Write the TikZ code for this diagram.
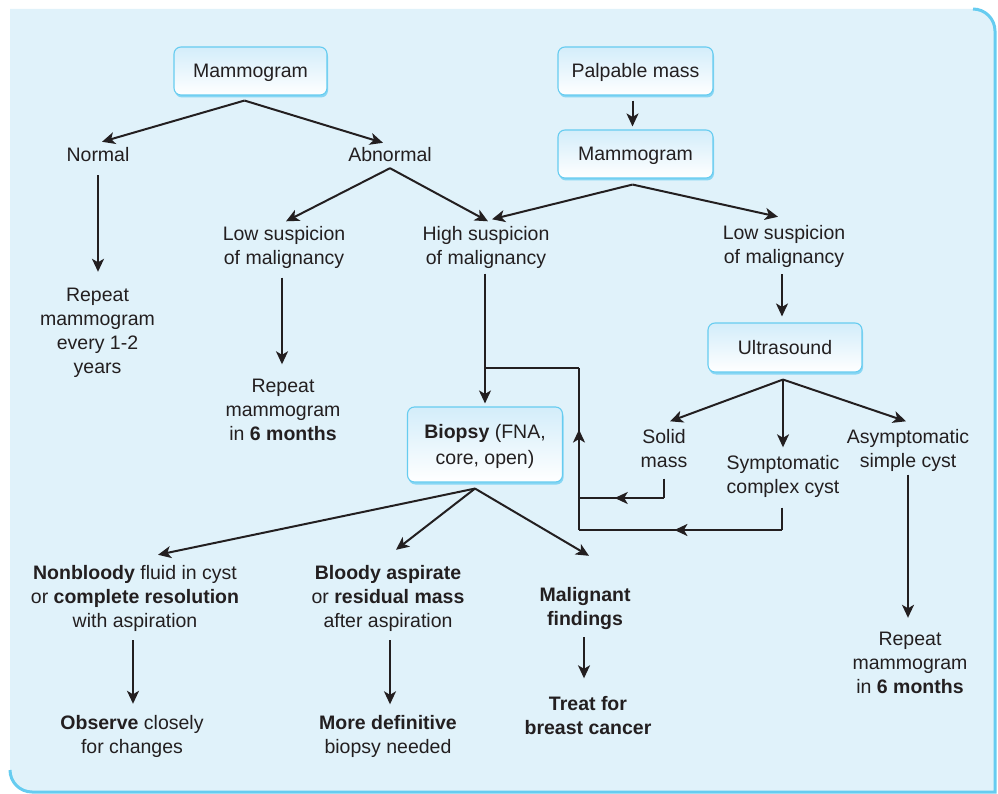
\documentclass[tikz,border=0pt]{standalone}
\usepackage{fontspec}
\setmainfont{Liberation Sans}
\usetikzlibrary{calc,arrows.meta,decorations.markings,shadows}
\definecolor{panel}{HTML}{E0F2FA}
\definecolor{rim}{HTML}{66CCF0}
\definecolor{boxtop}{HTML}{D3EDFA}
\definecolor{ink}{HTML}{231F20}
\definecolor{glow}{HTML}{78D2F3}
% line strut: 24pt tall, sitting slightly low so text is optically centred
\newcommand\vs{\rule[-5.2pt]{0pt}{24pt}}

\begin{document}
\begin{tikzpicture}[x=1pt,y=-1pt,
  every node/.style={font=\fontsize{19.5}{24}\selectfont, text=ink, inner sep=0pt, align=center},
  stepbox/.style={draw=rim, line width=1.1pt, rounded corners=7pt,
    top color=boxtop, bottom color=white, minimum width=153pt, minimum height=48pt,
    drop shadow={shadow xshift=1pt, shadow yshift=-2.5pt, fill=glow, opacity=0.85}},
  line/.style={draw=ink, line width=2pt},
  arr/.style={line, -{Stealth[length=13pt,width=12pt,inset=3.5pt]}},
  midarrow/.style={line, postaction={decorate}, decoration={markings,
    mark=at position #1 with {\arrow{Stealth[length=13pt,width=12pt,inset=3.5pt]}}}}
]
\useasboundingbox (0,0) rectangle (998,794);

% background panel with two rounded corners and a rim on the right and bottom
\fill[panel] (10,9) -- (973,9) .. controls (985.1,9) and (995,18.9) .. (995,31)
  -- (995,792) -- (32,792) .. controls (19.9,792) and (10,782.1) .. (10,770) -- cycle;
\draw[rim, line width=3pt] (973,9) .. controls (985.1,9) and (995,18.9) .. (995,31)
  -- (995,792) -- (32,792) .. controls (19.9,792) and (10,782.1) .. (10,770);

% boxed steps
\node[stepbox] (mamA) at (250.5,71) {\vs Mammogram};
\node[stepbox, minimum width=155pt] (palp) at (635.5,71) {\vs Palpable mass};
\node[stepbox, minimum width=155pt] (mamB) at (635.5,154) {\vs Mammogram};
\node[stepbox, minimum width=154pt, minimum height=49pt] (ultra) at (785,347.5) {\vs Ultrasound};
\node[stepbox, minimum width=155pt, minimum height=75pt] (biop) at (485,444.5)
  {\vs\textbf{Biopsy} (FNA,\\[2pt]\vs core, open)};

% plain text outcomes
\node (normal) at (98,155) {\vs Normal};
\node (abn) at (390,155) {\vs Abnormal};
\node (lowL) at (284,245.5) {\vs Low suspicion\\\vs of malignancy};
\node (high) at (486,245.5) {\vs High suspicion\\\vs of malignancy};
\node (lowR) at (784,245) {\vs Low suspicion\\\vs of malignancy};
\node (repL) at (97.5,331) {\vs Repeat\\\vs mammogram\\\vs every 1-2\\\vs years};
\node (repM) at (283,409.5) {\vs Repeat\\\vs mammogram\\\vs in \textbf{6 months}};
\node (solid) at (664,448.5) {\vs Solid\\\vs mass};
\node (symp) at (783,474.5) {\vs Symptomatic\\\vs complex cyst};
\node (asym) at (908,448.5) {\vs Asymptomatic\\\vs simple cyst};
\node (nonb) at (135,597) {\vs\textbf{Nonbloody} fluid in cyst\\\vs or \textbf{complete resolution}\\\vs with aspiration};
\node (bloody) at (388,597) {\vs\textbf{Bloody aspirate}\\\vs or \textbf{residual mass}\\\vs after aspiration};
\node (malig) at (585,607) {\vs\textbf{Malignant}\\\vs\textbf{findings}};
\node (obs) at (132,735) {\vs\textbf{Observe} closely\\\vs for changes};
\node (more) at (388,734.5) {\vs\textbf{More definitive}\\\vs biopsy needed};
\node (treat) at (588,715.5) {\vs\textbf{Treat for}\\\vs\textbf{breast cancer}};
\node (repR) at (910,663) {\vs Repeat\\\vs mammogram\\\vs in \textbf{6 months}};

% branch points
\coordinate (a1) at ($(mamA.south)+(-6,5)$);
\coordinate (a2) at ($(abn.south)+(0,1)$);
\coordinate (a3) at ($(mamB.south)+(-3,6)$);
\coordinate (a4) at ($(ultra.south)+(-2,7)$);
\coordinate (a5) at ($(biop.south)+(-10,6)$);
\coordinate (loopTop) at (579,368);
\coordinate (loopBot) at (579,530);
\coordinate (solidJoin) at (579,498);

% screening mammogram branch
\draw[arr] (a1) -- ($(normal.north)+(4,-1)$);
\draw[arr] (a1) -- ($(abn.north)+(-7,0)$);
\draw[arr] ($(normal.south)+(0,8)$) -- ($(repL.north)+(0.5,-11)$);
\draw[arr] (a2) -- ($(lowL.north)+(2,0)$);
\draw[arr] (a2) -- ($(high.north)+(2,0)$);
\draw[arr] ($(lowL.south)+(-2,8)$) -- ($(repM.north)+(-1,-9)$);

% palpable mass branch
\draw[arr] ($(palp.south)+(-3,5)$) -- ($(mamB.north)+(-3,-3)$);
\draw[arr] (a3) -- ($(high.north)+(6,-2)$);
\draw[arr] (a3) -- ($(lowR.north)+(-6,-4)$);
\draw[arr] ($(lowR.south)+(-2,5)$) -- ($(ultra.north)+(-3,-6)$);
\draw[arr] (a4) -- ($(solid.north)+(6,-3)$);
\draw[arr] (a4) -- ($(symp.north)+(0,-3)$);
\draw[arr] (a4) -- ($(asym.north)+(-2,-3)$);
\draw[arr] ($(asym.south)+(0,2)$) -- ($(asym.south |- repR.north)+(0,-9)$);

% route to biopsy
\draw[arr] ($(high.south)+(-1,4)$) -- ($(biop.north)+(0,-3)$);
\draw[line] (loopTop) -- (loopTop -| biop.north);
\draw[midarrow=0.62] (loopBot) -- (loopTop);
\draw[line] ($(solid.south)+(0,6)$) -- (solid.south |- solidJoin);
\draw[midarrow=0.58] (solid.south |- solidJoin) -- (solidJoin);
\draw[line] ($(symp.south)+(-1,9)$) -- ($(symp.south |- loopBot)+(-1,0)$);
\draw[midarrow=0.53] ($(symp.south |- loopBot)+(-1,0)$) -- (loopBot);

% biopsy results
\draw[arr] (a5) -- ($(nonb.north)+(23,-6)$);
\draw[arr] (a5) -- ($(bloody.north)+(8,-11)$);
\draw[arr] (a5) -- ($(malig.north)+(4,-27)$);
\draw[arr] ($(nonb.south)+(-2,7)$) -- ($(obs.north)+(1,-7)$);
\draw[arr] ($(bloody.south)+(2,7)$) -- ($(more.north)+(2,-6)$);
\draw[arr] ($(malig.south)+(-1,6)$) -- ($(treat.north)+(-4,-13)$);
\end{tikzpicture}
\end{document}
